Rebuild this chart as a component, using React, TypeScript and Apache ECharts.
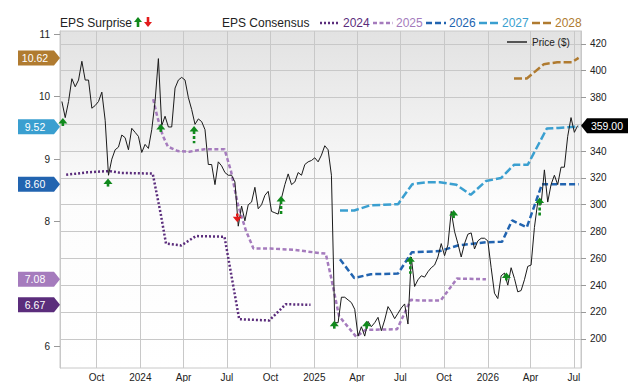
import React, { useEffect, useRef } from 'react';
import * as echarts from 'echarts';

// ---------- data ----------
const priceStart = '2023-07-20'; // weekly closes from this date
const priceWeekly = [
  377, 365, 377, 394, 388, 393, 407, 393, 393, 372,
  374, 377, 384, 363, 322, 334, 341, 343, 352, 350,
  341, 357, 354, 351, 339, 345, 342, 356, 377, 409,
  359, 366, 358, 358, 387, 393, 395, 393, 380, 371,
  360, 364, 362, 356, 330, 330, 315, 332, 329, 324,
  322, 322, 317, 284, 299, 288, 300, 302, 313, 297,
  300, 307, 310, 295, 294, 293, 305, 315, 323, 315,
  317, 324, 322, 330, 332, 333, 335, 332, 337, 344,
  341, 322, 212, 212, 231, 231, 229, 227, 222, 202,
  209, 202, 213, 209, 212, 216, 206, 214, 224, 220,
  215, 219, 223, 226, 211, 261, 239, 244, 247, 246,
  250, 253, 255, 261, 271, 262, 270, 295, 280, 271,
  261, 271, 278, 279, 267, 273, 275, 275, 273, 253,
  234, 230, 247, 249, 240, 253, 245, 235, 236, 244,
  254, 255, 283, 302, 300, 326, 302, 315, 322, 315,
  328, 328, 351, 365, 354, 359,
];

const years = ['2024', '2025', '2026', '2027', '2028'];
const yearColors = ['#5b2d7c', '#a57bbd', '#2264b0', '#3a9fd0', '#b07b30'];
const yearDash = [[2, 2], [4, 2.5], [6, 3], [8, 3], [8, 3]];

const cons2024: [string, number][] = [
  ['2023-07-29', 8.75], ['2023-09-12', 8.79], ['2023-10-28', 8.81], ['2023-11-22', 8.78],
  ['2024-01-27', 8.77], ['2024-02-13', 8.12], ['2024-02-24', 7.65], ['2024-03-27', 7.62],
  ['2024-04-27', 7.77], ['2024-06-26', 7.76], ['2024-07-27', 6.44], ['2024-09-28', 6.42],
  ['2024-11-02', 6.68], ['2024-12-24', 6.67],
];
const cons2025: [string, number][] = [
  ['2024-01-28', 9.96], ['2024-02-06', 9.67], ['2024-02-17', 9.38], ['2024-02-28', 9.2],
  ['2024-03-20', 9.13], ['2024-04-13', 9.12], ['2024-05-15', 9.16], ['2024-06-26', 9.16],
  ['2024-07-10', 8.8], ['2024-07-24', 8.28], ['2024-08-10', 7.86], ['2024-08-26', 7.57],
  ['2024-10-01', 7.57], ['2024-11-19', 7.55], ['2025-01-11', 7.5], ['2025-01-25', 7.49],
  ['2025-02-05', 7.12], ['2025-02-22', 6.49], ['2025-03-30', 6.16], ['2025-04-19', 6.27],
  ['2025-06-24', 6.28], ['2025-07-23', 6.75], ['2025-08-13', 6.74], ['2025-09-24', 6.74],
  ['2025-10-28', 7.09], ['2025-12-28', 7.08],
];
const cons2026: [string, number][] = [
  ['2025-02-24', 7.4], ['2025-03-26', 7.1], ['2025-04-30', 7.16], ['2025-06-26', 7.17],
  ['2025-07-25', 7.51], ['2025-09-22', 7.53], ['2025-10-30', 7.62], ['2025-12-28', 7.67],
  ['2026-01-31', 7.68], ['2026-02-21', 8.02], ['2026-03-24', 7.91], ['2026-04-25', 8.6],
  ['2026-07-11', 8.6],
];
const cons2027: [string, number][] = [
  ['2025-02-24', 8.18], ['2025-03-26', 8.18], ['2025-04-28', 8.26], ['2025-06-26', 8.28],
  ['2025-07-26', 8.6], ['2025-08-26', 8.63], ['2025-09-22', 8.63], ['2025-10-27', 8.59],
  ['2025-11-26', 8.43], ['2025-12-28', 8.65], ['2026-01-29', 8.7], ['2026-02-25', 8.91],
  ['2026-03-26', 8.91], ['2026-05-05', 9.49], ['2026-05-30', 9.5], ['2026-07-11', 9.52],
];
const cons2028: [string, number][] = [
  ['2026-02-25', 10.29], ['2026-03-24', 10.29], ['2026-04-29', 10.52], ['2026-05-27', 10.55],
  ['2026-06-27', 10.55], ['2026-07-11', 10.62],
];
const consensus = [cons2024, cons2025, cons2026, cons2027, cons2028];

// EPS surprise arrows: date, top price, bottom price, direction (1 up / -1 down)
const surprises: [string, number, number, number][] = [
  ['2023-07-22', 364.7, 358.3, 1],
  ['2023-10-25', 319.5, 313.2, 1],
  ['2024-02-13', 360.2, 354.3, 1],
  ['2024-04-23', 358.8, 345.8, 1],
  ['2024-07-23', 293.4, 287.0, -1],
  ['2024-10-23', 306.6, 293.1, 1],
  ['2025-02-12', 213.5, 207.4, 1],
  ['2025-04-21', 213.5, 206.8, 1],
  ['2025-07-22', 261.5, 248.5, 1],
  ['2025-10-21', 296.0, 289.9, 1],
  ['2026-02-09', 249.5, 242.9, 1],
  ['2026-04-20', 305.3, 291.9, 1],
];

const xTickDates = [
  '2023-10-01', '2024-01-01', '2024-04-01', '2024-07-01', '2024-10-01', '2025-01-01',
  '2025-04-01', '2025-07-01', '2025-10-01', '2026-01-01', '2026-04-01', '2026-07-01',
];
const monthNames = ['Jan', 'Feb', 'Mar', 'Apr', 'May', 'Jun', 'Jul', 'Aug', 'Sep', 'Oct', 'Nov', 'Dec'];
const priceTicks = [200, 220, 240, 260, 280, 300, 320, 340, 360, 380, 400, 420];
// 360 is hidden behind the last-price flag in the reference
const priceLabels = [200, 220, 240, 260, 280, 300, 320, 340, 380, 400, 420];
const epsTicks = [6, 8, 9, 10, 11];
const xRange = ['2023-07-16', '2026-07-16'];

// ---------- helpers ----------
const FONT = 'Liberation Sans, Arial, Helvetica, sans-serif';
const DAY = 86400000;
const toTs = (d: string) => Date.parse(d + 'T00:00:00Z');

export default function App() {
  const ref = useRef<HTMLDivElement>(null);

  useEffect(() => {
    if (!ref.current) return;
    const chart = echarts.init(ref.current, null, { renderer: 'svg' });

    const start = toTs(priceStart);
    const priceData = priceWeekly.map((v, i) => [start + i * 7 * DAY, v]);
    const xTicks = xTickDates.map(toTs);

    const consSeries = consensus.map((arr, k) => ({
      type: 'line',
      name: years[k],
      yAxisIndex: 0,
      data: arr.map(([d, v]) => [toTs(d), v]),
      symbol: 'none',
      showSymbol: false,
      z: 2,
      lineStyle: { color: yearColors[k], width: 2.5, type: yearDash[k] as any },
    }));

    const flagData = consensus.map((arr) => {
      const last = arr[arr.length - 1];
      return [toTs(last[0]), last[1]];
    });
    const lastPrice = priceData[priceData.length - 1];

    // legend graphics
    const legendY = 23;
    const legendEls: any[] = [
      { type: 'text', x: 60, y: legendY, style: { text: 'EPS Surprise', fontSize: 12, fill: '#222', fontFamily: FONT, verticalAlign: 'middle' } },
      { type: 'rect', shape: { x: 136.7, y: 21, width: 2.6, height: 6 }, style: { fill: '#10891c' } },
      { type: 'polygon', shape: { points: [[138, 17], [134, 22], [142, 22]] }, style: { fill: '#10891c' } },
      { type: 'rect', shape: { x: 146.7, y: 17, width: 2.6, height: 6 }, style: { fill: '#e31b1b' } },
      { type: 'polygon', shape: { points: [[144, 22], [152, 22], [148, 27]] }, style: { fill: '#e31b1b' } },
      { type: 'text', x: 222, y: legendY, style: { text: 'EPS Consensus', fontSize: 12, fill: '#222', fontFamily: FONT, verticalAlign: 'middle' } },
    ];
    years.forEach((yr, k) => {
      const x0 = 320 + k * 53;
      legendEls.push({
        type: 'line',
        shape: { x1: x0, y1: legendY, x2: x0 + 20, y2: legendY },
        style: { stroke: yearColors[k], lineWidth: 2.5, lineDash: yearDash[k] },
      });
      legendEls.push({
        type: 'text', x: x0 + 23, y: legendY,
        style: { text: yr, fontSize: 12, fill: yearColors[k], fontFamily: FONT, verticalAlign: 'middle' },
      });
    });
    legendEls.push({
      type: 'line', shape: { x1: 507, y1: 42, x2: 527, y2: 42 },
      style: { stroke: '#555', lineWidth: 2 }, z: 10,
    });
    legendEls.push({
      type: 'text', x: 532, y: 42, z: 10,
      style: { text: 'Price ($)', fontSize: 10, fill: '#222', fontFamily: FONT, verticalAlign: 'middle' },
    });

    const option: any = {
      animation: false,
      grid: {
        left: 60, right: 59, top: 31, bottom: 9,
        show: true,
        borderColor: '#c8c8c8', borderWidth: 1,
        backgroundColor: new echarts.graphic.LinearGradient(0, 0, 0, 1, [
          { offset: 0, color: '#e2e2e2' },
          { offset: 0.5, color: '#fcfcfc' },
          { offset: 1, color: '#ffffff' },
        ]),
      },
      xAxis: {
        type: 'value',
        min: toTs(xRange[0]),
        max: toTs(xRange[1]),
        axisLine: { show: false },
        axisTick: { show: false, customValues: xTicks },
        axisLabel: {
          customValues: xTicks,
          fontSize: 10, color: '#222', fontFamily: FONT, margin: 4,
          formatter: (v: number) => {
            const d = new Date(v);
            return d.getUTCMonth() === 0 ? String(d.getUTCFullYear()) : monthNames[d.getUTCMonth()];
          },
        },
        splitLine: { show: true, lineStyle: { color: '#c8c8c8', width: 1 } },
      },
      yAxis: [
        {
          type: 'value', position: 'left', min: 5.66, max: 11.05,
          axisLine: { show: true, lineStyle: { color: '#c8c8c8' } },
          axisTick: { show: true, length: 6, customValues: epsTicks, lineStyle: { color: '#999' } },
          axisLabel: { customValues: epsTicks, fontSize: 10, color: '#222', fontFamily: FONT, margin: 10 },
          splitLine: { show: false },
        },
        {
          type: 'value', position: 'right', min: 178.2, max: 429.6,
          axisLine: { show: true, lineStyle: { color: '#c8c8c8' } },
          axisTick: { show: true, length: 5, customValues: priceTicks, lineStyle: { color: '#999' } },
          axisLabel: { customValues: priceLabels, fontSize: 10, color: '#222', fontFamily: FONT, margin: 9 },
          splitLine: { show: true, lineStyle: { color: '#c8c8c8', width: 1 } },
        },
      ],
      graphic: legendEls,
      series: [
        ...consSeries,
        {
          type: 'line', name: 'Price ($)', yAxisIndex: 1, data: priceData,
          symbol: 'none', showSymbol: false, z: 3,
          lineStyle: { color: '#1a1a1a', width: 1 },
        },
        {
          type: 'custom', name: 'surprise', yAxisIndex: 1, z: 5, clip: false,
          data: surprises.map(([d, t, b, dir]) => [toTs(d), t, b, dir]),
          encode: { x: 0, y: [1, 2] },
          renderItem: (params: any, api: any) => {
            const pt = api.coord([api.value(0), api.value(1)]);
            const pb = api.coord([api.value(0), api.value(2)]);
            const x = pt[0], yt = pt[1], yb = pb[1];
            const up = api.value(3) > 0;
            const color = up ? '#10891c' : '#e31b1b';
            const head = 5.5, hw = 4.5;
            if (up) {
              return {
                type: 'group',
                children: [
                  { type: 'line', shape: { x1: x, y1: yt + head - 0.5, x2: x, y2: yb }, style: { stroke: color, lineWidth: 2.6, lineDash: [3, 2] } },
                  { type: 'polygon', shape: { points: [[x, yt], [x - hw, yt + head], [x + hw, yt + head]] }, style: { fill: color } },
                ],
              };
            }
            return {
              type: 'group',
              children: [
                { type: 'line', shape: { x1: x, y1: yt, x2: x, y2: yb - head + 0.5 }, style: { stroke: color, lineWidth: 2.6, lineDash: [3, 2] } },
                { type: 'polygon', shape: { points: [[x, yb], [x - hw, yb - head], [x + hw, yb - head]] }, style: { fill: color } },
              ],
            };
          },
        },
        {
          type: 'custom', name: 'flags', yAxisIndex: 0, z: 6, clip: false,
          data: flagData,
          encode: { x: 0, y: 1 },
          renderItem: (params: any, api: any) => {
            const cs = params.coordSys;
            const y = api.coord([api.value(0), api.value(1)])[1];
            const xr = cs.x;
            const w = 42, h = 15, tip = 6;
            const color = yearColors[params.dataIndex];
            return {
              type: 'group',
              children: [
                { type: 'polygon', shape: { points: [[xr - w, y - h / 2], [xr - tip, y - h / 2], [xr, y], [xr - tip, y + h / 2], [xr - w, y + h / 2]] }, style: { fill: color } },
                { type: 'text', x: xr - 25, y: y, style: { text: Number(api.value(1)).toFixed(2), fill: '#fff', fontSize: 10.5, fontFamily: FONT, align: 'center', verticalAlign: 'middle' } },
              ],
            };
          },
        },
        {
          type: 'custom', name: 'lastPrice', yAxisIndex: 1, z: 6, clip: false,
          data: [lastPrice],
          encode: { x: 0, y: 1 },
          renderItem: (params: any, api: any) => {
            const cs = params.coordSys;
            const y = api.coord([api.value(0), api.value(1)])[1];
            const xl = cs.x + cs.width;
            const w = 47, h = 15, tip = 6;
            return {
              type: 'group',
              children: [
                { type: 'polygon', shape: { points: [[xl, y], [xl + tip, y - h / 2], [xl + w, y - h / 2], [xl + w, y + h / 2], [xl + tip, y + h / 2]] }, style: { fill: '#000' } },
                { type: 'text', x: xl + 26, y: y, style: { text: Number(api.value(1)).toFixed(2), fill: '#fff', fontSize: 10.5, fontFamily: FONT, align: 'center', verticalAlign: 'middle' } },
              ],
            };
          },
        },
      ],
    };

    chart.setOption(option);
    return () => chart.dispose();
  }, []);

  return (
    <div
      ref={ref}
      style={{ position: 'fixed', left: 0, top: 0, width: 640, height: 382, background: '#fff' }}
    />
  );
}
